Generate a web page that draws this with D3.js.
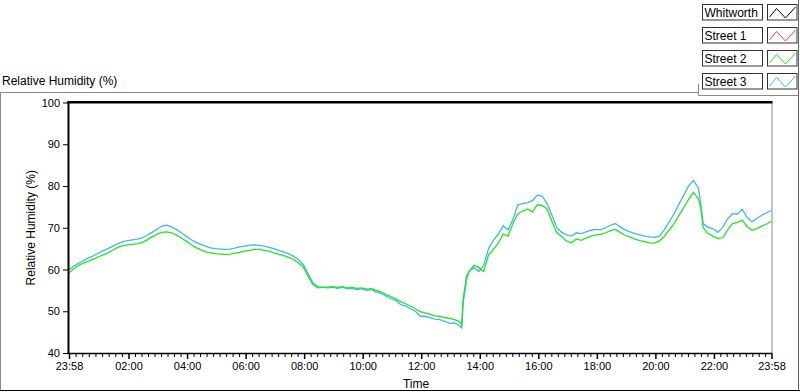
<!DOCTYPE html>
<html><head><meta charset="utf-8">
<script src="https://cdn.jsdelivr.net/npm/d3@7"></script>
<style>
body{margin:0;background:#fff}
svg{display:block}
text{font-family:"Liberation Sans",Arial,sans-serif;fill:#000}
</style>
</head><body>
<svg id="c" width="800" height="392"></svg>
<script>
// ---------- data ----------
const seriesNames = ["Whitworth", "Street 1", "Street 2", "Street 3"];
const seriesColors = ["#000000", "#ff3c3c", "#1ee81e", "#40b6f2"];
// minutes after the 23:58 start
const minutes = [
  0,10,20,30,40,50,60,70,80,90,
  100,110,120,130,140,150,160,170,180,190,
  200,210,220,230,240,250,260,270,280,290,
  300,310,320,330,340,350,360,370,380,390,
  400,410,420,430,440,450,460,470,480,490,
  500,510,520,530,540,550,560,570,580,590,
  600,610,620,630,640,650,660,670,680,690,
  700,710,720,730,740,750,760,770,780,790,
  800,805,808,815,
  820,830,840,850,860,870,880,890,900,910,
  920,930,940,950,960,970,980,990,1000,1010,
  1020,1030,1040,1050,1060,1070,1080,1090,1100,1110,
  1120,1130,1140,1150,1160,1170,1180,1190,1200,1210,
  1220,1230,1240,1250,1260,1270,1280,1290,1295,
  1300,1310,1320,1330,1340,1350,1360,1370,1380,1390,
  1400,1410,1420,1430,1440
];
const whitworth = [];
const street1 = [];
const street2 = [
  59.2,60.2,61.0,61.6,62.0,62.5,63.0,63.5,64.0,64.6,
  65.3,65.7,65.9,66.0,66.2,66.5,67.1,67.8,68.4,68.9,
  69.0,68.8,68.3,67.6,66.8,66.0,65.3,64.7,64.2,64.0,
  63.8,63.7,63.6,63.7,63.9,64.1,64.4,64.6,64.8,64.8,
  64.6,64.4,64.0,63.7,63.3,62.9,62.4,61.6,60.6,58.4,
  56.4,55.6,55.7,55.8,55.9,55.7,55.9,55.6,55.7,55.5,
  55.6,55.3,55.4,55.0,54.6,54.0,53.5,53.0,52.3,51.8,
  51.2,50.6,49.9,49.6,49.3,48.9,48.8,48.5,48.3,48.0,
  47.6,46.8,53.0,58.5,
  59.5,61.0,60.5,59.5,63.5,64.8,66.3,68.5,68.0,71.0,
  73.3,74.0,74.5,73.8,75.5,75.3,74.5,71.5,68.8,67.9,
  66.8,66.4,67.3,67.0,67.5,68.0,68.3,68.4,68.8,69.3,
  69.6,68.9,68.2,67.8,67.3,66.9,66.7,66.4,66.3,66.8,
  67.9,69.4,70.9,72.9,74.8,76.8,78.5,76.9,74.8,
  70.0,68.6,68.0,67.4,67.6,69.5,71.0,71.3,71.8,70.3,
  69.4,69.8,70.4,70.9,71.6
];
const street3 = [
  60.0,60.8,61.5,62.2,62.8,63.3,63.9,64.5,65.0,65.6,
  66.2,66.6,66.9,67.1,67.3,67.6,68.2,68.9,69.6,70.4,
  70.6,70.2,69.6,68.8,68.0,67.2,66.5,66.0,65.6,65.2,
  65.0,64.9,64.8,64.9,65.1,65.4,65.6,65.8,65.9,65.8,
  65.6,65.3,65.0,64.6,64.2,63.8,63.2,62.4,61.2,59.0,
  56.8,55.9,55.8,55.6,55.8,55.5,55.7,55.4,55.5,55.2,
  55.4,55.0,55.2,54.6,54.3,53.6,53.0,52.6,51.6,51.3,
  50.6,50.0,48.8,48.8,48.5,48.1,48.0,47.6,47.1,47.2,
  46.6,46.0,52.0,57.5,
  59.5,60.5,59.5,61.0,65.0,67.0,68.5,70.5,69.5,72.0,
  75.5,75.8,76.0,76.5,77.8,77.6,75.8,73.0,70.0,68.9,
  68.3,68.0,68.8,68.6,69.0,69.4,69.6,69.5,70.0,70.6,
  71.0,70.2,69.5,69.0,68.6,68.3,68.0,67.8,67.7,68.0,
  69.5,71.4,73.3,75.6,77.8,80.0,81.3,79.6,75.7,
  71.0,70.1,69.8,68.9,70.1,72.1,73.4,73.3,74.4,72.5,
  71.4,72.2,73.0,73.6,74.2
];
const yTicks = [40, 50, 60, 70, 80, 90, 100];
const xTickLabels = ["23:58","02:00","04:00","06:00","08:00","10:00","12:00",
                     "14:00","16:00","18:00","20:00","22:00","23:58"];
const title = "Relative Humidity (%)";
const yTitle = "Relative Humidity (%)";
const xTitle = "Time";

// ---------- layout ----------
const L = 69, R = 771.5, T = 102.5, B = 353;
const svg = d3.select("#c");
const start = new Date(2000, 0, 1, 23, 58);
const end = d3.timeMinute.offset(start, 1440);
const x = d3.scaleTime().domain([start, end]).range([L, R]);
const y = d3.scaleLinear().domain([40, 100]).range([B, T]);

// frames
const gray = "#8a8a8a";
svg.append("line").attr("x1",0.5).attr("x2",0.5).attr("y1",92.5).attr("y2",390).attr("stroke",gray);
svg.append("line").attr("x1",0).attr("x2",698).attr("y1",92.5).attr("y2",92.5).attr("stroke",gray);
svg.append("line").attr("x1",698.5).attr("x2",698.5).attr("y1",84).attr("y2",95.5).attr("stroke",gray);
svg.append("line").attr("x1",698.5).attr("x2",798).attr("y1",95.5).attr("y2",95.5).attr("stroke",gray);
svg.append("line").attr("x1",798.5).attr("x2",798.5).attr("y1",0).attr("y2",390).attr("stroke","#666");
svg.append("line").attr("x1",0).attr("x2",800).attr("y1",390.5).attr("y2",390.5).attr("stroke","#000");

// title
svg.append("text").attr("x",2).attr("y",85).attr("font-size","12px").text(title);

// plot frame
svg.append("line").attr("x1",R+0.5).attr("x2",R+0.5).attr("y1",T).attr("y2",B).attr("stroke",gray);

// data lines
const dates = minutes.map(m => d3.timeMinute.offset(start, m));
svg.append("clipPath").attr("id","clip").append("rect")
  .attr("x",L).attr("y",T-1).attr("width",R-L).attr("height",B-T+1);
const lineGen = d3.line().x(d => x(d[0])).y(d => y(d[1]));
const seriesData = [whitworth, street1, street3, street2];
const seriesColorOrder = [seriesColors[0], seriesColors[1], seriesColors[3], seriesColors[2]];
seriesData.forEach((vals, i) => {
  if (!vals.length) return;
  const pts = vals.map((v, j) => [dates[j], v]);
  svg.append("path").attr("clip-path","url(#clip)")
    .attr("d", lineGen(pts)).attr("fill","none")
    .attr("stroke", seriesColorOrder[i]).attr("stroke-width",1.3)
    .attr("stroke-linejoin","miter");
});

// y axis
const yAxis = d3.axisLeft(y).tickValues(yTicks).tickSize(5).tickPadding(3).tickFormat(d3.format("d"));
const gy = svg.append("g").attr("transform",`translate(${L-1},0)`).call(yAxis);
gy.select(".domain").remove();
gy.selectAll("text").attr("font-size","11px").attr("font-family","Liberation Sans, Arial, sans-serif").attr("fill","#000");
gy.selectAll("line").attr("stroke","#000");
svg.append("rect").attr("x",L-1.5).attr("y",T-1.5).attr("width",2).attr("height",B-T+2.5).attr("fill","#000");
svg.append("rect").attr("x",L-1.5).attr("y",T-1.5).attr("width",R-L+2.5).attr("height",2.5).attr("fill","#000");

// x axis
const tickDates = xTickLabels.map((s, i) => {
  if (i === 0) return start;
  if (i === xTickLabels.length - 1) return end;
  const [h, m] = s.split(":").map(Number);
  return new Date(2000, 0, 2, h, m);
});
const minorDates = [];
for (let i = 0; i < tickDates.length - 1; i++) {
  const a = +tickDates[i], b = +tickDates[i+1];
  for (let k = 1; k < 9; k++) minorDates.push(new Date(a + (b - a) * k / 9));
}
svg.append("line").attr("x1",L-1.5).attr("x2",R+1).attr("y1",B+0.5).attr("y2",B+0.5).attr("stroke","#000").attr("stroke-width",1.5);
const xMinor = d3.axisBottom(x).tickValues(minorDates).tickSize(3).tickFormat("");
const gxm = svg.append("g").attr("transform",`translate(0,${B+1})`).call(xMinor);
gxm.select(".domain").remove();
gxm.selectAll("line").attr("stroke","#000");
const xAxis = d3.axisBottom(x).tickValues(tickDates).tickSize(5).tickPadding(3)
  .tickFormat((d, i) => xTickLabels[i]);
const gx = svg.append("g").attr("transform",`translate(0,${B+1})`).call(xAxis);
gx.select(".domain").remove();
gx.selectAll("line").attr("stroke","#000").attr("stroke-width",1.5);
gx.selectAll("text").attr("font-size","11px").attr("font-family","Liberation Sans, Arial, sans-serif").attr("fill","#000");

// axis titles
svg.append("text").attr("x",416).attr("y",388).attr("text-anchor","middle").attr("font-size","12px").text(xTitle);
svg.append("text").attr("transform",`translate(35,${(T+B)/2}) rotate(-90)`)
  .attr("text-anchor","middle").attr("font-size","12px").attr("fill","#1a0000").text(yTitle);

// legend
seriesNames.forEach((name, i) => {
  const y0 = 4 + i * 23;
  const g = svg.append("g").attr("transform",`translate(0,${y0})`);
  g.append("rect").attr("x",702.5).attr("y",0.5).attr("width",60).attr("height",15.5)
    .attr("fill","#fff").attr("stroke","#333");
  g.append("text").attr("x",704.5).attr("y",13).attr("font-size","12px").text(name);
  g.append("rect").attr("x",767.5).attr("y",0.5).attr("width",29.5).attr("height",15.5)
    .attr("fill","#fff").attr("stroke","#333");
  g.append("path").attr("d",d3.line()([[769.5,13],[776.5,4.5],[785.5,14],[795.5,3]]))
    .attr("fill","none").attr("stroke",seriesColors[i]).attr("stroke-width",1);
});
</script>
</body></html>
